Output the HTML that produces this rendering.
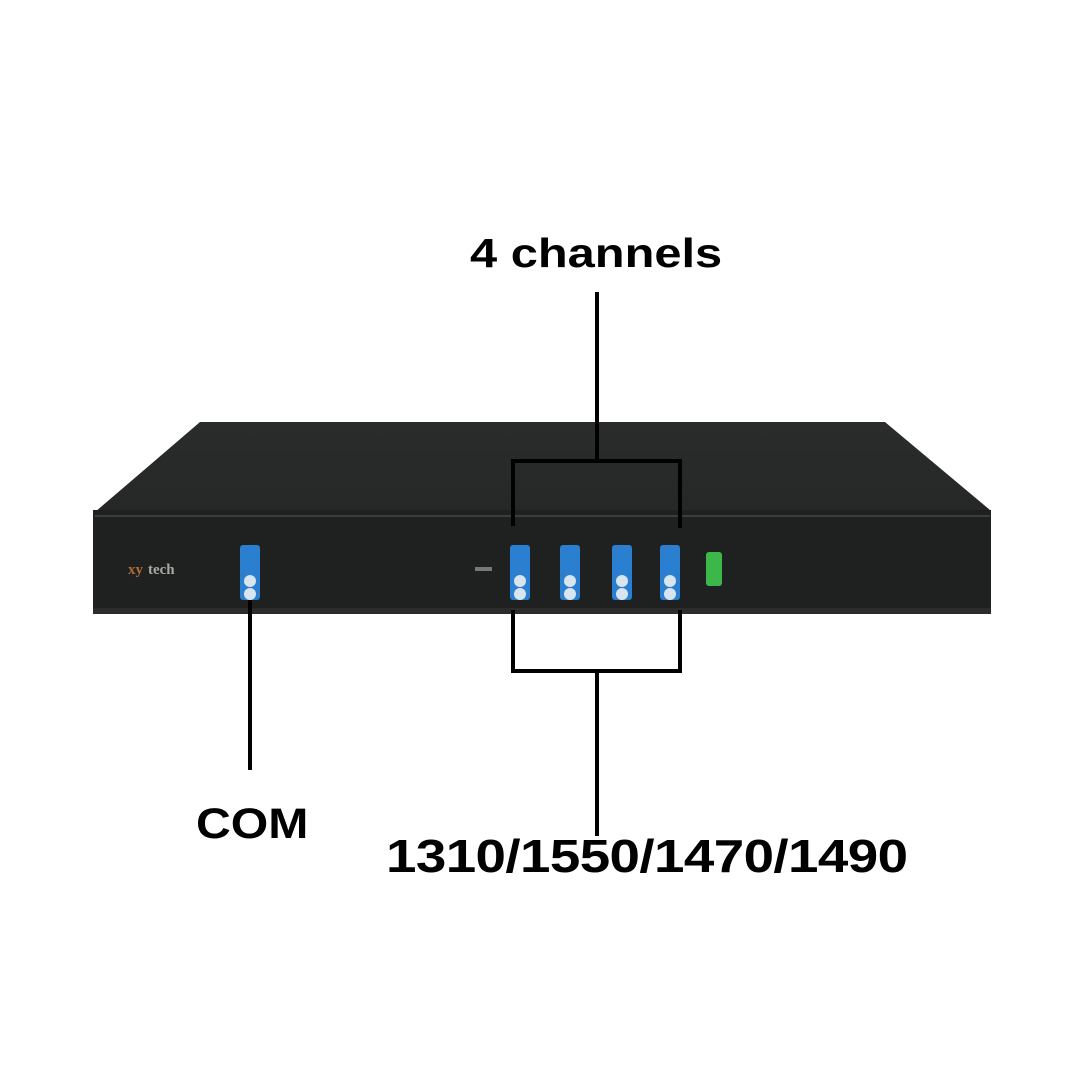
<!DOCTYPE html>
<html><head><style>
body{margin:0;width:1080px;height:1080px;background:#fff;overflow:hidden;position:relative;font-family:"Liberation Sans",sans-serif}
.t{position:absolute;font-weight:bold;color:#000;white-space:nowrap;transform-origin:0 0}
</style></head><body>
<svg width="1080" height="1080" style="position:absolute;left:0;top:0">
<defs>
<linearGradient id="top" x1="0" y1="0" x2="0" y2="1"><stop offset="0" stop-color="#2a2c2b"/><stop offset="1" stop-color="#262827"/></linearGradient>
</defs>
<polygon points="200,422 885,422 990,510 95,512" fill="url(#top)"/>
<rect x="93" y="510" width="898" height="104" fill="#1f2120"/>
<line x1="95" y1="516" x2="990" y2="516" stroke="#3a3d3b" stroke-width="2"/>
<rect x="93" y="608" width="898" height="6" fill="#2b2c2b"/>
<text x="128" y="574" font-family="Liberation Serif" font-size="15" font-weight="bold" fill="#b06a35">xy</text>
<text x="148" y="574" font-family="Liberation Serif" font-size="15" font-weight="bold" fill="#a9a9a0">tech</text>
<rect x="475" y="567" width="17" height="4" fill="#777"/>
<g fill="#2a7fd0">
<rect x="240" y="545" width="20" height="55" rx="3"/>
<rect x="510" y="545" width="20" height="55" rx="3"/>
<rect x="560" y="545" width="20" height="55" rx="3"/>
<rect x="612" y="545" width="20" height="55" rx="3"/>
<rect x="660" y="545" width="20" height="55" rx="3"/>
</g>
<g fill="#d8e4ee">
<circle cx="250" cy="581" r="6"/><circle cx="250" cy="594" r="6"/>
<circle cx="520" cy="581" r="6"/><circle cx="520" cy="594" r="6"/>
<circle cx="570" cy="581" r="6"/><circle cx="570" cy="594" r="6"/>
<circle cx="622" cy="581" r="6"/><circle cx="622" cy="594" r="6"/>
<circle cx="670" cy="581" r="6"/><circle cx="670" cy="594" r="6"/>
</g>
<rect x="706" y="552" width="16" height="34" rx="3" fill="#3cb84a"/>
<g stroke="#000" stroke-width="4" fill="none">
<line x1="597" y1="292" x2="597" y2="461"/>
<polyline points="513,526 513,461 680,461 680,528"/>
<polyline points="513,610 513,671 680,671 680,610"/>
<line x1="597" y1="671" x2="597" y2="836"/>
<line x1="250" y1="600" x2="250" y2="770"/>
</g>
</svg>
<div class="t" style="left:470px;top:230px;font-size:41px;transform:scaleX(1.19)">4 channels</div>
<div class="t" style="left:196px;top:800px;font-size:43px;transform:scaleX(1.12)">COM</div>
<div class="t" style="left:386px;top:829px;font-size:46px;letter-spacing:-0.5px;transform:scaleX(1.19)">1310/1550/1470/1490</div>
</body></html>
